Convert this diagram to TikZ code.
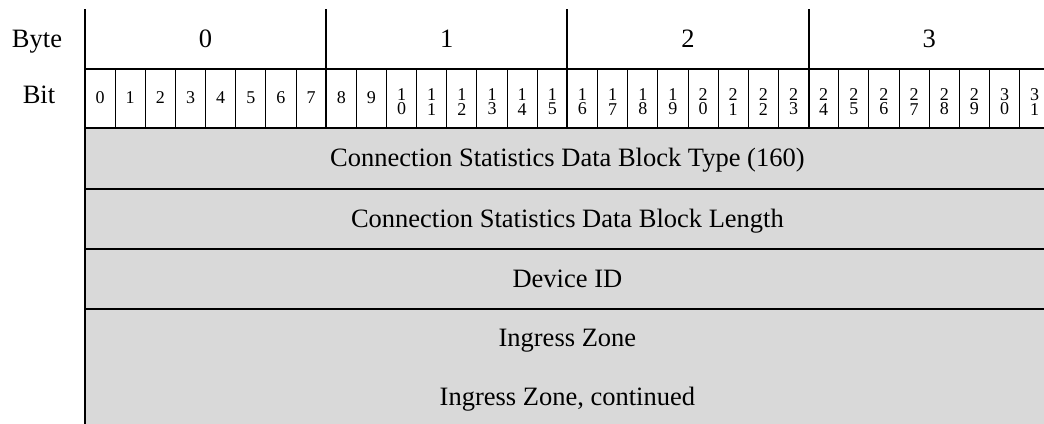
\documentclass[tikz,border=0pt]{standalone}
\usepackage{fontspec}
\setmainfont{Liberation Serif}
\definecolor{rowgray}{RGB}{217,217,217}
\tikzset{
  thinline/.style={line width=1pt},
  ruleline/.style={line width=2pt},
  biglabel/.style={font=\fontsize{26.5}{30}\selectfont, inner sep=0pt, anchor=base},
  bitlabel/.style={font=\fontsize{18}{14.6}\selectfont, inner sep=0pt, anchor=base},
  bitstack/.style={font=\fontsize{18}{14.6}\selectfont, inner sep=0pt, align=center, anchor=center},
}
\begin{document}
\begin{tikzpicture}[x=1pt,y=-1pt]
\useasboundingbox (0,0) rectangle (1044,423);
\clip (0,0) rectangle (1044,423);
% grey field rows
\fill[rowgray] (85,128) rectangle (1060,440);
% left border
\draw[ruleline] (85,9) -- (85,440);
% byte dividers
\foreach \k in {1,2,3,4} \draw[ruleline] ({85+8*\k*30.15},9) -- ({85+8*\k*30.15},128);
% bit dividers
\foreach \i in {1,...,31} {
  \pgfmathtruncatemacro\m{mod(\i,8)}
  \ifnum\m>0 \draw[thinline] ({85+\i*30.15},69) -- ({85+\i*30.15},128); \fi
}
% horizontal rules
\foreach \y in {69,128,189,249,309} \draw[ruleline] (84,\y) -- (1060,\y);
% header labels
\node[biglabel] (bytelbl) at (37,47) {Byte};
\node[biglabel] (bitlbl) at (39,103.5) {Bit};
\foreach \k in {0,1,2,3} {
  \node[biglabel] (byte\k) at ({85+(8*\k+4)*30.15},47) {\k};
}
\foreach \i in {0,...,31} {
  \pgfmathsetmacro\cx{85+(\i+0.5)*30.15}
  \ifnum\i<10
    \node[bitlabel] (bit\i) at (\cx,103.5) {\i};
  \else
    \pgfmathtruncatemacro\hi{int(\i/10)}
    \pgfmathtruncatemacro\lo{mod(\i,10)}
    \node[bitstack] (bit\i) at (\cx,101.8) {\hi\\\lo};
  \fi
}
% field labels
\node[biglabel] (f1) at (567.4,166.7) {Connection Statistics Data Block Type (160)};
\node[biglabel] (f2) at (567.4,227.2) {Connection Statistics Data Block Length};
\node[biglabel] (f3) at (567.4,287.2) {Device ID};
\node[biglabel] (f4) at (567.4,346.5) {Ingress Zone};
\node[biglabel] (f5) at (567.4,405.5) {Ingress Zone, continued};
\end{tikzpicture}
\end{document}
